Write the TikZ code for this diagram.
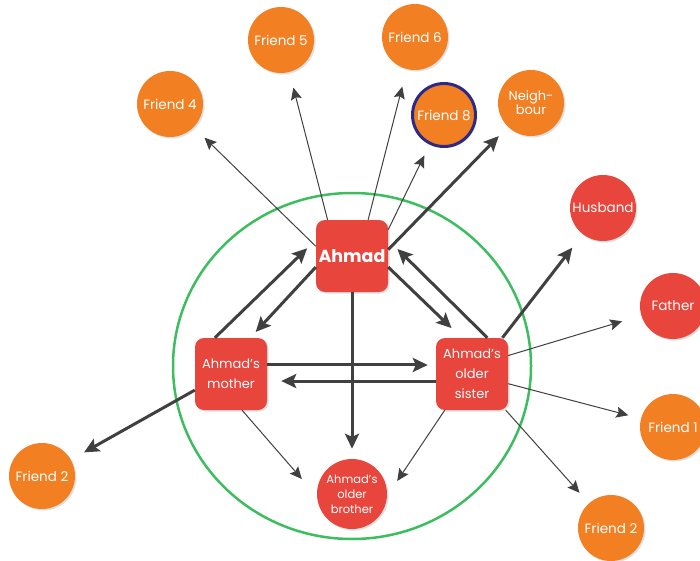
\documentclass[tikz,border=0pt]{standalone}
\usepackage{fontspec}
\setmainfont{Poppins}
\usetikzlibrary{arrows.meta,shadows,backgrounds}

\definecolor{nodered}{HTML}{E8453C}
\definecolor{nodeorange}{HTML}{F28023}
\definecolor{ringgreen}{HTML}{3DBE5E}
\definecolor{linkgray}{HTML}{404040}
\definecolor{rimblue}{HTML}{2C2A86}

\tikzset{
  soft shadow/.style={drop shadow={shadow xshift=1.5pt, shadow yshift=-1.5pt, fill=black, opacity=0.12}},
  person/.style={circle, minimum size=66pt, inner sep=0pt, text=white, align=center,
    font=\fontsize{13.5}{15}\selectfont, soft shadow},
  friend/.style={person, fill=nodeorange},
  kin/.style={person, fill=nodered},
  member/.style={rectangle, rounded corners=9pt, fill=nodered, minimum size=72pt,
    inner sep=0pt, text=white, align=center, font=\fontsize{13}{20}\selectfont, soft shadow},
  strong/.style={draw=linkgray, line width=3pt, -{Stealth[length=15pt,width=14pt,inset=3pt]}},
  weak/.style={draw=linkgray, line width=1pt, -{Stealth[length=12pt,width=11pt,inset=2pt]}},
}

\begin{document}
\begin{tikzpicture}[x=1pt, y=-1pt]
  \useasboundingbox (0,0) rectangle (700,561);

  % family members
  \node[member, font=\bfseries\fontsize{17.5}{20}\selectfont] (ahmad) at (352,256) {Ahmad};
  \node[member] (mom) at (231,374) {Ahmad’s\\mother};
  \node[member] (sis) at (472,374) {Ahmad’s\\older\\sister};
  \node[kin, minimum size=70pt, font=\fontsize{11.5}{15}\selectfont] (bro) at (352,494) {Ahmad’s\\older\\brother};

  % outer contacts
  \node[friend] (f4) at (170,104) {Friend 4};
  \node[friend] (f5) at (281,40) {Friend 5};
  \node[friend] (f6) at (415,37) {Friend 6};
  \node[friend, draw=rimblue, line width=3pt, minimum size=63pt] (f8) at (444,115) {Friend 8};
  \node[friend, font=\fontsize{13}{14}\selectfont] (nb) at (531,103) {Neigh-\\bour};
  \node[kin] (hus) at (603,208) {Husband};
  \node[kin] (fa) at (673,306) {Father};
  \node[friend] (f1) at (673,427) {Friend 1};
  \node[friend] (f2l) at (42,476) {Friend 2};
  \node[friend] (f2r) at (611,528) {Friend 2};

  % household ring
  \begin{scope}[on background layer]
    \draw[ringgreen, line width=2.5pt] (352,366) ellipse [x radius=179, y radius=173];
  \end{scope}

  % Ahmad's links
  \draw[weak, shorten >=15pt] (ahmad.165) -- (f4);
  \draw[weak, shorten >=16pt] (ahmad.124) -- (f5);
  \draw[weak, shorten >=18pt] (ahmad.66) -- (f6);
  \draw[weak, shorten >=12pt] (ahmad.36) -- (f8);
  \draw[strong, shorten >=13pt] (ahmad.10) -- (nb);
  \draw[strong, shorten >=8pt] (ahmad.197) -- (mom.62);
  \draw[strong, shorten >=12pt] (mom.114) -- (ahmad.156);
  \draw[strong, shorten >=14pt] (ahmad.343) -- (sis.106);
  \draw[strong, shorten >=13pt] (sis.67) -- (ahmad.24);
  \draw[strong, shorten >=10pt] (ahmad.south) -- (bro);

  % mother and sister
  \draw[strong, shorten >=8pt] (mom.14) -- (sis.166);
  \draw[strong, shorten >=14pt] (sis.191) -- (mom.349);
  \draw[weak] (mom.287) -- ([shift={(-15,-15)}]bro.west);
  \draw[weak] (sis.233) -- ([shift={(10,-13)}]bro.east);
  \draw[strong, shorten >=15pt] (mom.204) -- (f2l);

  % sister's links
  \draw[strong, shorten >=17pt] (sis.50) -- (hus);
  \draw[weak, shorten >=20pt] (sis.27) -- (fa);
  \draw[weak, shorten >=13pt] (sis.-15) -- (f1);
  \draw[weak, shorten >=14pt] (sis.-47) -- (f2r);
\end{tikzpicture}
\end{document}
